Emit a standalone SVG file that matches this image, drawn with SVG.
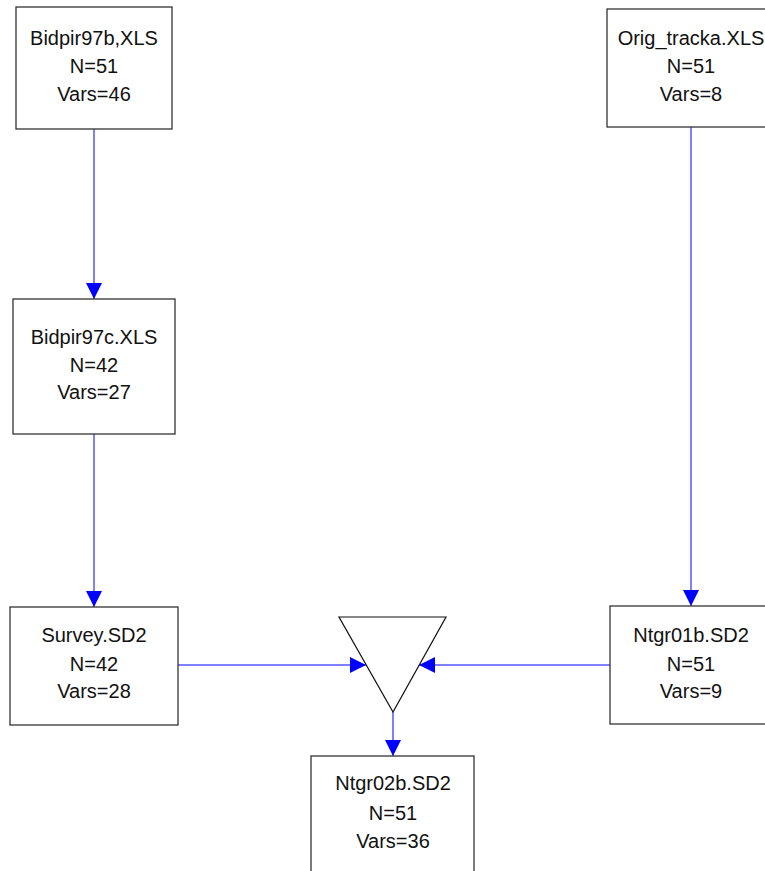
<svg xmlns="http://www.w3.org/2000/svg" width="765" height="871" viewBox="0 0 765 871">
<style>
.box{fill:#fff;stroke:#333;stroke-width:1.3}
.t{font-family:"Liberation Sans",Arial,sans-serif;font-size:20px;fill:#111;text-anchor:middle}
.c{stroke:#0000ff;stroke-width:1;fill:none}
</style>
<defs>
<marker id="ah" markerWidth="16" markerHeight="16" refX="16" refY="8" orient="auto" markerUnits="userSpaceOnUse">
<path d="M0,0 L16,8 L0,16 Z" fill="#0000ff"/>
</marker>
</defs>
<rect width="765" height="871" fill="#fff"/>
<g id="connectors">
<line class="c" x1="94" y1="129" x2="94" y2="299" marker-end="url(#ah)"/>
<line class="c" x1="691" y1="127" x2="691" y2="606" marker-end="url(#ah)"/>
<line class="c" x1="94" y1="434" x2="94" y2="607" marker-end="url(#ah)"/>
<line class="c" x1="178" y1="665" x2="366" y2="665" marker-end="url(#ah)"/>
<line class="c" x1="610" y1="665" x2="419" y2="665" marker-end="url(#ah)"/>
<line class="c" x1="393" y1="712" x2="393" y2="756" marker-end="url(#ah)"/>
</g>
<g id="bidpir97b">
<rect class="box" x="16" y="7" width="156" height="122"/>
<text class="t" x="94" y="45">Bidpir97b,XLS</text>
<text class="t" x="94" y="73">N=51</text>
<text class="t" x="94" y="101">Vars=46</text>
</g>
<g id="origtracka">
<rect class="box" x="607" y="9" width="170" height="118"/>
<text class="t" x="691" y="45">Orig_tracka.XLS</text>
<text class="t" x="691" y="73">N=51</text>
<text class="t" x="691" y="101">Vars=8</text>
</g>
<g id="bidpir97c">
<rect class="box" x="13" y="299" width="162" height="135"/>
<text class="t" x="94" y="344">Bidpir97c.XLS</text>
<text class="t" x="94" y="372">N=42</text>
<text class="t" x="94" y="399">Vars=27</text>
</g>
<g id="survey">
<rect class="box" x="10" y="607" width="168" height="118"/>
<text class="t" x="94" y="642">Survey.SD2</text>
<text class="t" x="94" y="671">N=42</text>
<text class="t" x="94" y="698">Vars=28</text>
</g>
<g id="merge">
<polygon points="339,617 446,617 393,712" fill="#fff" stroke="#111" stroke-width="1.2"/>
</g>
<g id="ntgr01b">
<rect class="box" x="610" y="606" width="170" height="118"/>
<text class="t" x="691" y="642">Ntgr01b.SD2</text>
<text class="t" x="691" y="671">N=51</text>
<text class="t" x="691" y="698">Vars=9</text>
</g>
<g id="ntgr02b">
<rect class="box" x="311" y="756" width="163" height="130"/>
<text class="t" x="393" y="790">Ntgr02b.SD2</text>
<text class="t" x="393" y="820">N=51</text>
<text class="t" x="393" y="848">Vars=36</text>
</g>
</svg>
